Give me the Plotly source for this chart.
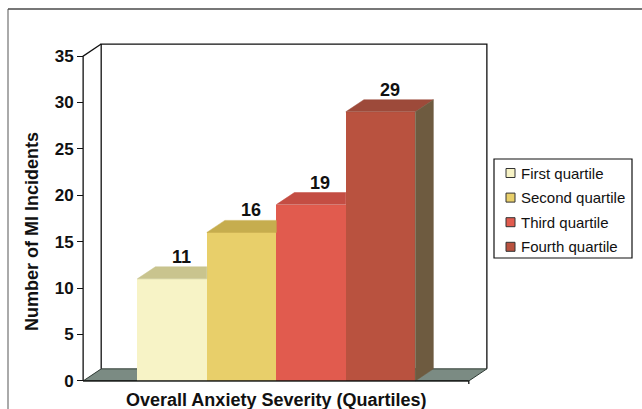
import plotly.graph_objects as go

# --- data -----------------------------------------------------------------
quartiles = ["First quartile", "Second quartile", "Third quartile", "Fourth quartile"]
mi_incidents = [11, 16, 19, 29]
y_ticks = [0, 5, 10, 15, 20, 25, 30, 35]

# --- styling --------------------------------------------------------------
front_colors = ["#f7f3c6", "#e8cf6a", "#e15b4e", "#b9523f"]
top_colors = ["#c9c48e", "#c6ad4e", "#c44d43", "#9d4a3a"]
side_color = "#6e5b40"
floor_color = "#7b8b83"
FONT = "Liberation Sans, Arial, sans-serif"

# 3-D box geometry in axis units
X_LEFT, X_RIGHT = -1.28, 4.27      # front corners of the floor
DX, DY = 0.26, 1.3                 # depth offset of the box
Y_TOP = 35
PAD_X, PAD_Y = 0.045, 0.33
x_range = [X_LEFT - PAD_X, X_RIGHT + DX + PAD_X]
y_range = [-PAD_Y, Y_TOP + DY + PAD_Y]

W, H = 642, 409
M = dict(l=80, r=152, t=41, b=25)
PW, PH = W - M["l"] - M["r"], H - M["t"] - M["b"]


def paper(px, py):
    """pixel position -> paper coordinates"""
    return (px - M["l"]) / PW, (H - M["b"] - py) / PH


fig = go.Figure()

# front faces of the bars
for i, (name, v) in enumerate(zip(quartiles, mi_incidents)):
    fig.add_trace(go.Bar(
        x=[i], y=[v], width=1, name=name,
        marker=dict(color=front_colors[i], line=dict(width=0)),
        showlegend=False, hoverinfo="skip",
    ))

# top faces (hidden part behind a taller neighbour is cut away) and right side
n = len(mi_incidents)
for i, v in enumerate(mi_incidents):
    l, r = i - 0.5, i + 0.5
    nxt = mi_incidents[i + 1] if i + 1 < n else None
    if nxt is not None and nxt >= v + DY:
        xs = [l, r, r, l + DX, l]
        ys = [v, v, v + DY, v + DY, v]
    else:
        xs = [l, r, r + DX, l + DX, l]
        ys = [v, v, v + DY, v + DY, v]
    fig.add_trace(go.Scatter(
        x=xs, y=ys, mode="lines", fill="toself", fillcolor=top_colors[i],
        line=dict(color=top_colors[i], width=0.5),
        showlegend=False, hoverinfo="skip",
    ))
    if nxt is None:
        fig.add_trace(go.Scatter(
            x=[r, r + DX, r + DX, r, r], y=[0, DY, v + DY, v, 0],
            mode="lines", fill="toself", fillcolor=side_color,
            line=dict(color=side_color, width=0.5),
            showlegend=False, hoverinfo="skip",
        ))

# value labels above each bar
for i, v in enumerate(mi_incidents):
    fig.add_annotation(
        x=i + DX / 2, y=v + DY, text=str(v), showarrow=False,
        yanchor="bottom", yshift=-2,
        font=dict(family=FONT, size=18, color="#111", weight="bold"),
    )

shapes = []
# floor
floor_path = (f"M{X_LEFT},0 L{X_RIGHT},0 L{X_RIGHT + DX},{DY} "
              f"L{X_LEFT + DX},{DY} Z")
shapes.append(dict(type="path", path=floor_path, xref="x", yref="y",
                   fillcolor=floor_color, line=dict(color="#2f3a34", width=1),
                   layer="below"))
# back and side walls
wall_path = (f"M{X_LEFT + DX},{DY} L{X_LEFT + DX},{Y_TOP + DY} "
             f"L{X_RIGHT + DX},{Y_TOP + DY} L{X_RIGHT + DX},{DY}")
shapes.append(dict(type="path", path=wall_path, xref="x", yref="y",
                   line=dict(color="#111", width=1.3), layer="below"))
# front y-axis line with its slanted top
axis_path = f"M{X_LEFT},0 L{X_LEFT},{Y_TOP} L{X_LEFT + DX},{Y_TOP + DY}"
shapes.append(dict(type="path", path=axis_path, xref="x", yref="y",
                   line=dict(color="#111", width=1.3), layer="above"))
# front x-axis line and its end tick
shapes.append(dict(type="line", xref="x", yref="y", x0=X_LEFT, x1=X_RIGHT,
                   y0=0, y1=0, line=dict(color="#111", width=1.3)))
shapes.append(dict(type="line", xref="x", yref="y", x0=X_RIGHT, x1=X_RIGHT,
                   ysizemode="pixel", yanchor=0, y0=0, y1=-12,
                   line=dict(color="#111", width=1.3)))

# outer frame
fx0, fy0 = paper(8, 9)
fx1, fy1 = paper(W + 5, H + 5)
shapes.append(dict(type="line", xref="paper", yref="paper", x0=fx0, x1=fx0,
                   y0=fy0, y1=fy1, line=dict(color="#8e8e8e", width=1.5)))
shapes.append(dict(type="line", xref="paper", yref="paper", x0=fx0, x1=fx1,
                   y0=fy0, y1=fy0, line=dict(color="#4a4a4a", width=1.5)))

# legend box
lx0, ly0 = paper(494, 159)
lx1, ly1 = paper(632, 258)
shapes.append(dict(type="rect", xref="paper", yref="paper", x0=lx0, x1=lx1,
                   y0=ly1, y1=ly0, line=dict(color="#111", width=1.2),
                   fillcolor="white"))
for k, name in enumerate(quartiles):
    cy = 173 + 24.6 * k
    sx0, sy0 = paper(506, cy - 4.5)
    sx1, sy1 = paper(515, cy + 4.5)
    shapes.append(dict(type="rect", xref="paper", yref="paper",
                       x0=sx0, x1=sx1, y0=sy1, y1=sy0,
                       fillcolor=front_colors[k],
                       line=dict(color="#333", width=1)))
    tx, ty = paper(519, cy)
    fig.add_annotation(x=tx, y=ty, xref="paper", yref="paper", text=name,
                       showarrow=False, xanchor="left", yanchor="middle",
                       font=dict(family=FONT, size=15, color="#111"))

# axis titles
ax, ay = paper(32, 232)
fig.add_annotation(x=ax, y=ay, xref="paper", yref="paper",
                   text="Number of MI Incidents", textangle=-90,
                   showarrow=False, xanchor="center", yanchor="middle",
                   font=dict(family=FONT, size=18, color="#111", weight="bold"))
bx, by = paper(276, 388)
fig.add_annotation(x=bx, y=by, xref="paper", yref="paper",
                   text="Overall Anxiety Severity (Quartiles)",
                   showarrow=False, xanchor="center", yanchor="top",
                   font=dict(family=FONT, size=18, color="#111", weight="bold"))

fig.update_layout(
    width=W, height=H, margin=M,
    paper_bgcolor="white", plot_bgcolor="white",
    barmode="overlay", bargap=0, hovermode=False,
    shapes=shapes, showlegend=False,
    xaxis=dict(range=x_range, visible=False, fixedrange=True),
    yaxis=dict(
        range=y_range, tickvals=y_ticks, ticks="outside", ticklen=6,
        tickwidth=1.3, tickcolor="#111", showline=False, showgrid=False,
        zeroline=False, anchor="free",
        position=(X_LEFT - x_range[0]) / (x_range[1] - x_range[0]),
        tickfont=dict(family=FONT, size=17, color="#111", weight="bold"),
        fixedrange=True,
    ),
)

fig.write_html("out.html")
